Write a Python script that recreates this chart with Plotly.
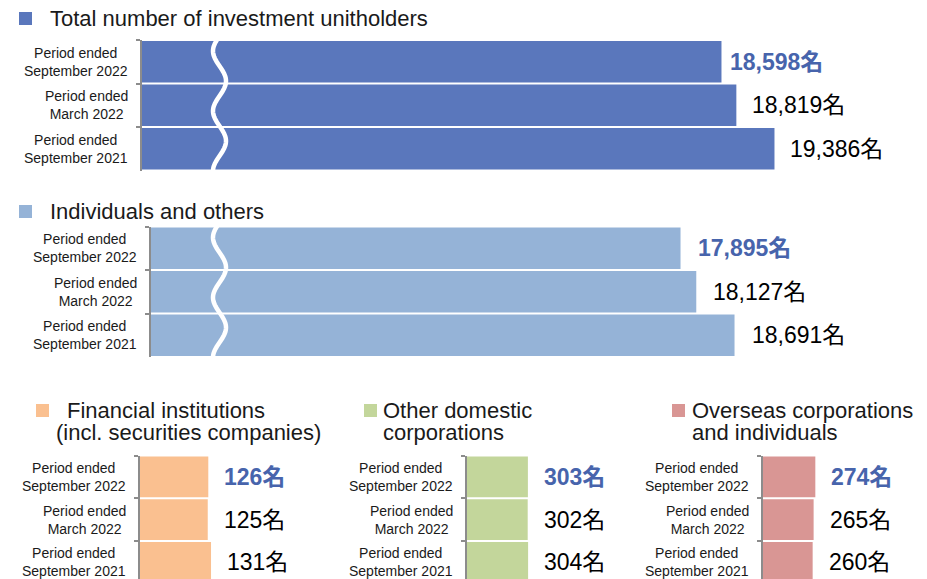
import numpy as np
import plotly.graph_objects as go

# ---------------- data ----------------
periods = ["Period ended<br>September 2022", "Period ended<br>March 2022", "Period ended<br>September 2021"]
total_holders = [18598, 18819, 19386]
individuals = [17895, 18127, 18691]
financial_inst = [126, 125, 131]
other_domestic = [303, 302, 304]
overseas = [274, 265, 260]

title_total = ["Total number of investment unitholders"]
title_individuals = ["Individuals and others"]
title_financial = ["Financial institutions", "(incl. securities companies)"]
title_domestic = ["Other domestic", "corporations"]
title_overseas = ["Overseas corporations", "and individuals"]
unit = "名"

# ---------------- layout helpers ----------------
W, H = 927, 579
FONT = "Arial, 'Liberation Sans', 'Noto Sans CJK JP', sans-serif"
TXT = "#1a1a1a"
BLUE_TXT = "#4764AC"


def px(x):
    return x / W


def py(y):
    return 1 - y / H


panels = [
    dict(vals=total_holders, color="#5A77BC", left=141.5, right=905, top=40, bottom=170.5,
         x0=9975, slope=0.06726, yr=[2.5, -0.5], wave=True,
         titles=title_total, title_x=[49], title_y=[18], sq=(19, 12), shift=[7, 14, 14]),
    dict(vals=individuals, color="#95B3D7", left=150.5, right=905, top=226.5, bottom=357,
         x0=10082, slope=0.06784, yr=[2.5, -0.5], wave=True,
         titles=title_individuals, title_x=[49], title_y=[211], sq=(19, 205), shift=[15, 15, 15]),
    dict(vals=financial_inst, color="#FAC090", left=139.5, right=330, top=455.5, bottom=579,
         x0=0, slope=0.546, yr=[2.39, -0.5], wave=False,
         titles=title_financial, title_x=[66, 55], title_y=[410, 432], sq=(36, 404), shift=[14, 14, 14]),
    dict(vals=other_domestic, color="#C3D69B", left=467, right=650, top=455.5, bottom=579,
         x0=0, slope=0.201, yr=[2.39, -0.5], wave=False,
         titles=title_domestic, title_x=[382, 382], title_y=[410, 432], sq=(364, 404), shift=[14, 14, 14]),
    dict(vals=overseas, color="#D99694", left=763, right=920, top=455.5, bottom=579,
         x0=0, slope=0.191, yr=[2.39, -0.5], wave=False,
         titles=title_overseas, title_x=[691, 691], title_y=[410, 432], sq=(672, 404), shift=[14, 14, 14]),
]

fig = go.Figure()
annotations = []
shapes = []
layout_axes = {}

for k, p in enumerate(panels, start=1):
    xa = "x" if k == 1 else f"x{k}"
    ya = "y" if k == 1 else f"y{k}"
    fig.add_trace(go.Bar(
        x=p["vals"], y=periods, orientation="h",
        marker=dict(color=p["color"], line=dict(width=0)),
        xaxis=xa, yaxis=ya, hoverinfo="x+y",
    ))
    x_end = p["x0"] + (p["right"] - p["left"]) / p["slope"]
    xkey = "xaxis" if k == 1 else f"xaxis{k}"
    ykey = "yaxis" if k == 1 else f"yaxis{k}"
    layout_axes[xkey] = dict(
        domain=[px(p["left"]), px(p["right"])], range=[p["x0"], x_end],
        anchor=ya, showgrid=False, zeroline=False, showticklabels=False,
        showline=False, ticks="", fixedrange=True,
    )
    layout_axes[ykey] = dict(
        domain=[py(p["bottom"]), py(p["top"])], range=p["yr"], type="category",
        anchor=xa, showgrid=False, zeroline=False, showticklabels=False,
        showline=True, linecolor="#8c8c8c", linewidth=2,
        ticks="outside", tickson="boundaries", ticklen=4, tickcolor="#8c8c8c", tickwidth=2,
        fixedrange=True,
    )

    # category labels (right-aligned block, centred lines)
    for i, cat in enumerate(periods):
        annotations.append(dict(
            x=px(p["left"] - 12), xref="paper", xanchor="right",
            y=i, yref=ya, yanchor="middle",
            text=cat, align="center", showarrow=False,
            font=dict(family=FONT, size=14, color=TXT),
        ))

    # value labels
    for i, v in enumerate(p["vals"]):
        label = f"{v:,}{unit}"
        if i == 0:
            label = f"<b>{label}</b>"
            col = BLUE_TXT
        else:
            col = "#000000"
        annotations.append(dict(
            x=v, xref=xa, xanchor="left", xshift=p["shift"][i],
            y=i, yref=ya, yanchor="middle",
            text=label, showarrow=False,
            font=dict(family=FONT, size=23, color=col),
        ))

    # panel titles
    for t, tx, ty in zip(p["titles"], p["title_x"], p["title_y"]):
        annotations.append(dict(
            x=px(tx), xref="paper", xanchor="left",
            y=py(ty), yref="paper", yanchor="middle",
            text=t, showarrow=False, borderpad=0,
            font=dict(family=FONT, size=22, color=TXT),
        ))

    # legend square
    sx, sy = p["sq"]
    shapes.append(dict(
        type="rect", xref="paper", yref="paper",
        x0=px(sx), x1=px(sx + 13), y0=py(sy + 13), y1=py(sy),
        fillcolor=p["color"], line=dict(width=0),
    ))

    # axis-break wave
    if p["wave"]:
        ys = np.arange(p["top"] - 1, p["bottom"] + 2, 1.5)
        xs = 219.5 - 6.5 * np.cos(2 * np.pi * (ys - (p["top"] + 11)) / 60)
        path = "M " + " L ".join(f"{px(a):.5f},{py(b):.5f}" for a, b in zip(xs, ys))
        shapes.append(dict(
            type="path", xref="paper", yref="paper", path=path,
            line=dict(color="white", width=4.5), layer="above",
        ))

fig.update_layout(
    width=W, height=H,
    margin=dict(l=0, r=0, t=0, b=0),
    paper_bgcolor="white", plot_bgcolor="white",
    showlegend=False, bargap=0.05,
    annotations=annotations, shapes=shapes,
    font=dict(family=FONT, color=TXT),
    **layout_axes,
)

fig.write_html(
    "out.html",
    config={"displayModeBar": False},
    post_script="document.body.style.margin='0';document.body.style.overflow='hidden';",
)
